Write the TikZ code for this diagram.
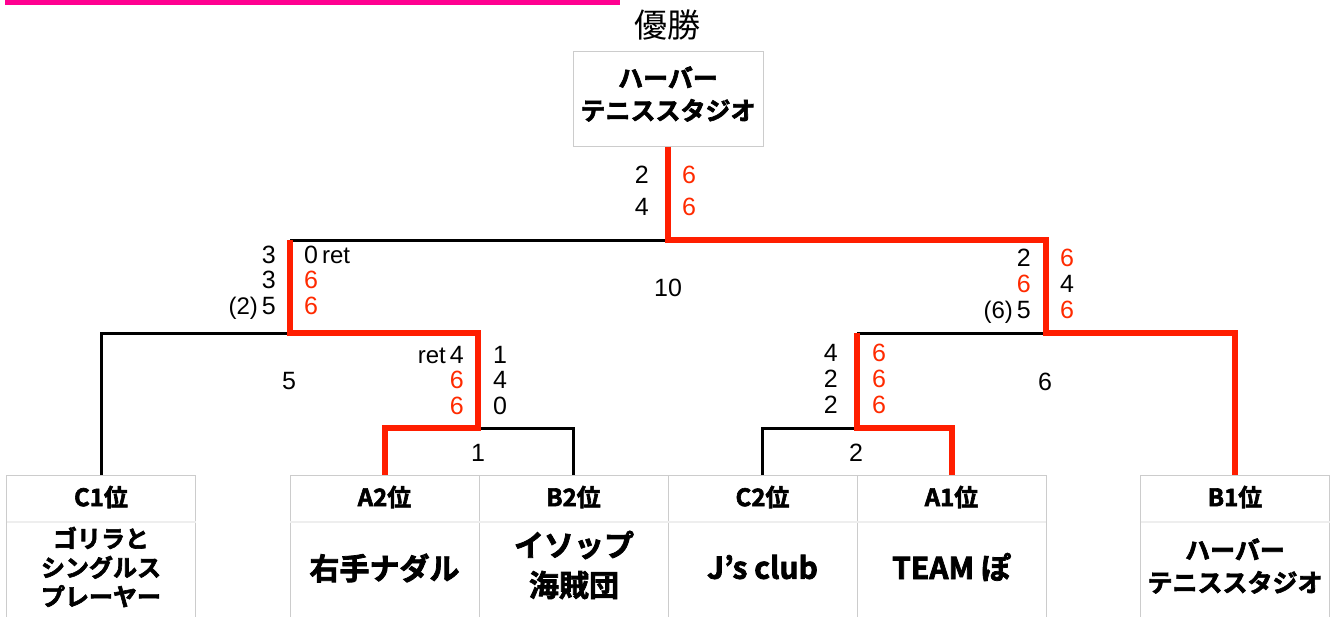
\documentclass[tikz,border=0pt]{standalone}
\usepackage{fontspec}
\setmainfont{Liberation Sans}
\newfontfamily\jp{Noto Sans CJK JP}
\newfontfamily\jpb{Noto Sans CJK JP Bold}[RawFeature={embolden=2.5}]
\definecolor{winred}{HTML}{FF1E00}
\definecolor{scorered}{HTML}{FF2A00}
\definecolor{barpink}{HTML}{FF0090}
\definecolor{boxgray}{HTML}{CCCCCC}
\definecolor{sepgray}{HTML}{EEEEEE}
\begin{document}
\begin{tikzpicture}[x=1pt,y=-1pt,
  lose/.style={line width=3pt, black, line join=miter},
  win/.style={line width=6pt, winred, line join=miter},
  teambox/.style={draw=boxgray, line width=1pt, minimum width=189pt, minimum height=150pt, anchor=north, inner sep=0pt},
  sepline/.style={draw=sepgray, line width=1.5pt},
  hdr/.style={font=\jpb\fontsize{24}{24}\selectfont, inner sep=0pt},
  nm/.style={font=\jpb\fontsize{30}{40}\selectfont, align=center, inner sep=0pt},
  nms/.style={font=\jpb\fontsize{24}{29}\selectfont, align=center, inner sep=0pt},
  nmc/.style={font=\jpb\fontsize{25}{32.5}\selectfont, align=center, inner sep=0pt},
  sc/.style={font=\fontsize{25}{25}\selectfont, inner sep=0pt},
  small/.style={font=\fontsize{24}{24}\selectfont},
  rd/.style={text=scorered},
  be/.style={anchor=base east},
  bw/.style={anchor=base west}]
\useasboundingbox (0,0) rectangle (1332,616);

% top bar and title
\fill[barpink] (5,0) rectangle (620,5);
\node[font=\jp\fontsize{33}{33}\selectfont, inner sep=0pt] (title) at (667,25) {優勝};

% champion box
\node[draw=boxgray, line width=1pt, minimum width=190pt, minimum height=95pt, inner sep=0pt] (champ) at (668,98.5) {};
\node[nmc] (champname) at (668,94) {ハーバー\\テニススタジオ};

% team boxes
\node[teambox] (c1) at (101,475) {};
\node[teambox] (a2) at (384.5,475) {};
\node[teambox] (b2) at (573.5,475) {};
\node[teambox] (c2) at (762.5,475) {};
\node[teambox] (a1) at (951.5,475) {};
\node[teambox] (b1) at (1235,475) {};
\foreach \b in {c1,a2,b2,c2,a1,b1}{
  \draw[sepline] ([yshift=-47pt,xshift=0.5pt]\b.north west) -- ([yshift=-47pt,xshift=-0.5pt]\b.north east);
}

% headers
\node[hdr] (hc1) at (101,497) {C1位};
\node[hdr] (ha2) at (384.5,497) {A2位};
\node[hdr] (hb2) at (573.5,497) {B2位};
\node[hdr] (hc2) at (762.5,497) {C2位};
\node[hdr] (ha1) at (951.5,497) {A1位};
\node[hdr] (hb1) at (1235,497) {B1位};

% names
\node[nms] (nc1) at (101,567) {ゴリラと\\シングルス\\プレーヤー};
\node[nm] (na2) at (384.5,568) {右手ナダル};
\node[nm] (nb2) at (574,565) {イソップ\\海賊団};
\node[nm] (nc2) at (762.5,567) {J’s club};
\node[nm] (na1) at (951.5,567) {TEAM ぽ};
\node[nmc] (nb1) at (1235,566) {ハーバー\\テニススタジオ};

% joints
\coordinate (F) at (668,240);
\coordinate (L) at (290,240);
\coordinate (R) at (1046,240);
\coordinate (L1) at (290,333);
\coordinate (A) at (478,428);
\coordinate (R1) at (1046,333);
\coordinate (R2) at (857,333);
\coordinate (C) at (857,428);

% losing lines
\draw[lose] (c1.north) |- (L1);
\draw[lose] (L) -- (F);
\draw[lose] (b2.north) |- (A);
\draw[lose] (c2.north) |- (C);
\draw[lose] (R2) -- (R1);

% winning lines
\draw[win] (champ.south) |- (R) -- (R1) -| (b1.north);
\draw[win] (L) -- (L1) -| (A) -| (a2.north);
\draw[win] (R2) -- (C) -| (a1.north);

% final scores
\node[sc,be] (f1) at (649,183) {2};
\node[sc,be] (f2) at (649,215) {4};
\node[sc,bw,rd] (f3) at (682,183) {6};
\node[sc,bw,rd] (f4) at (682,215) {6};

% left semifinal
\node[sc,be] (l1) at (276,263) {3};
\node[sc,be] (l2) at (276,288) {3};
\node[sc,be] (l3) at (276,314) {{\fontsize{24}{24}\selectfont (2)}\hspace{4pt}5};
\node[sc,bw] (l4) at (304,263) {0\hspace{4pt}{\fontsize{24}{24}\selectfont ret}};
\node[sc,bw,rd] (l5) at (304,288) {6};
\node[sc,bw,rd] (l6) at (304,314) {6};

% left quarterfinal
\node[sc,be] (q1) at (464,363) {{\fontsize{24}{24}\selectfont ret}\hspace{4pt}4};
\node[sc,be,rd] (q2) at (464,388) {6};
\node[sc,be,rd] (q3) at (464,414) {6};
\node[sc,bw] (q4) at (493,363) {1};
\node[sc,bw] (q5) at (493,388) {4};
\node[sc,bw] (q6) at (493,414) {0};

% right semifinal
\node[sc,be] (r1) at (1031,266) {2};
\node[sc,be,rd] (r2) at (1031,292) {6};
\node[sc,be] (r3) at (1031,318) {{\fontsize{24}{24}\selectfont (6)}\hspace{4pt}5};
\node[sc,bw,rd] (r4) at (1060,266) {6};
\node[sc,bw] (r5) at (1060,292) {4};
\node[sc,bw,rd] (r6) at (1060,318) {6};

% right quarterfinal
\node[sc,be] (p1) at (838,361) {4};
\node[sc,be] (p2) at (838,387) {2};
\node[sc,be] (p3) at (838,413) {2};
\node[sc,bw,rd] (p4) at (872,361) {6};
\node[sc,bw,rd] (p5) at (872,387) {6};
\node[sc,bw,rd] (p6) at (872,413) {6};

% match numbers
\node[sc] (m10) at (668,288) {10};
\node[sc] (m1) at (478,453) {1};
\node[sc] (m2) at (856,453) {2};
\node[sc] (m5) at (289,381) {5};
\node[sc] (m6) at (1045,382) {6};
\end{tikzpicture}
\end{document}
